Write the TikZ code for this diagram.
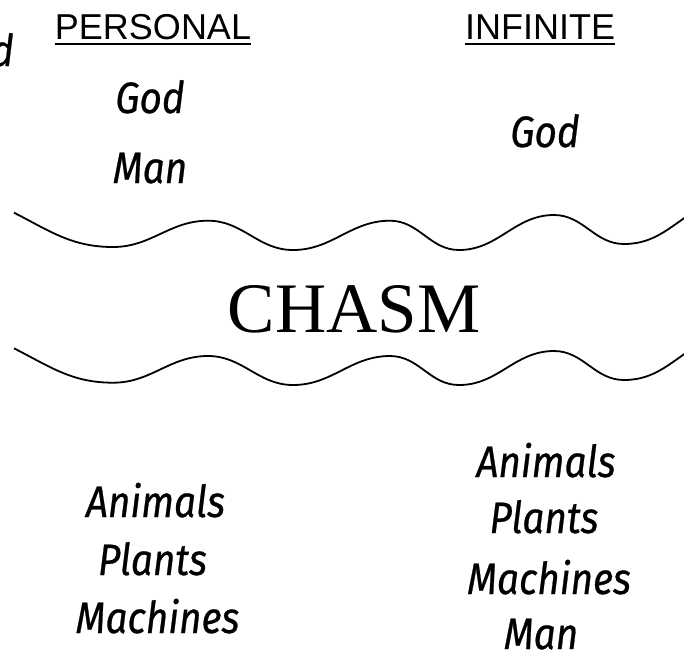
\documentclass[tikz,border=0pt]{standalone}
\usepackage{fontspec}
\setmainfont{Liberation Serif}
\newfontfamily\headfont{Liberation Sans}
\newfontfamily\handfont[FakeStretch=0.88,FakeBold=0.6]{Fira Sans}
\tikzset{
  head/.style={font=\headfont\fontsize{36}{40}\selectfont, inner sep=0pt, anchor=base},
  hand/.style={font=\handfont\itshape\fontsize{44}{48}\selectfont, inner sep=0pt, anchor=base},
  big/.style={font=\fontsize{71}{76}\selectfont, inner sep=0pt, anchor=base},
  wave/.style={line width=1.8pt, line join=round},
  uline/.style={line width=2.2pt}
}
\begin{document}
\begin{tikzpicture}[x=1pt,y=-1pt]
\useasboundingbox (0,0) rectangle (684,656);
% headings
\node[head] (personal) at (153,39) {PERSONAL};
\node[head] (infinite) at (540,39) {INFINITE};
\draw[uline] ([yshift=-5pt]personal.base west) -- ([yshift=-5pt]personal.base east);
\draw[uline] ([yshift=-5pt]infinite.base west) -- ([yshift=-5pt]infinite.base east);
% clipped word at the left edge
\node[hand, anchor=base east] (frag) at (14,66) {God};
% upper items
\node[hand] (godL) at (150,113) {God};
\node[hand] (manL) at (150,183) {Man};
\node[hand] (godR) at (545,147) {God};
% waves
\coordinate (w0) at (14,212.7);
\draw[wave] (w0) to[out=-27,in=180] (113,247) to[out=0,in=180] (208,220.7)
  to[out=0,in=180] (293,250) to[out=0,in=180] (390,220.7)
  to[out=0,in=180] (459,250) to[out=0,in=180] (554,215)
  to[out=0,in=180] (624,244) to[out=0,in=-150] (700,208);
\coordinate (v0) at (14,348.3);
\draw[wave] (v0) to[out=-27,in=180] (113,382.7) to[out=0,in=180] (208,356)
  to[out=0,in=180] (293,385) to[out=0,in=180] (390,356)
  to[out=0,in=180] (459,385) to[out=0,in=180] (554,351)
  to[out=0,in=180] (624,380) to[out=0,in=-150] (700,344);
% chasm
\node[big] (chasm) at (354,332) {CHASM};
% lower items left
\node[hand] (aniL) at (155.5,517) {Animals};
\node[hand] (plaL) at (152.5,575) {Plants};
\node[hand] (macL) at (157.5,633) {Machines};
% lower items right
\node[hand] (aniR) at (546,477) {Animals};
\node[hand] (plaR) at (544,533) {Plants};
\node[hand] (macR) at (549,594) {Machines};
\node[hand] (manR) at (541,649) {Man};
\end{tikzpicture}
\end{document}
